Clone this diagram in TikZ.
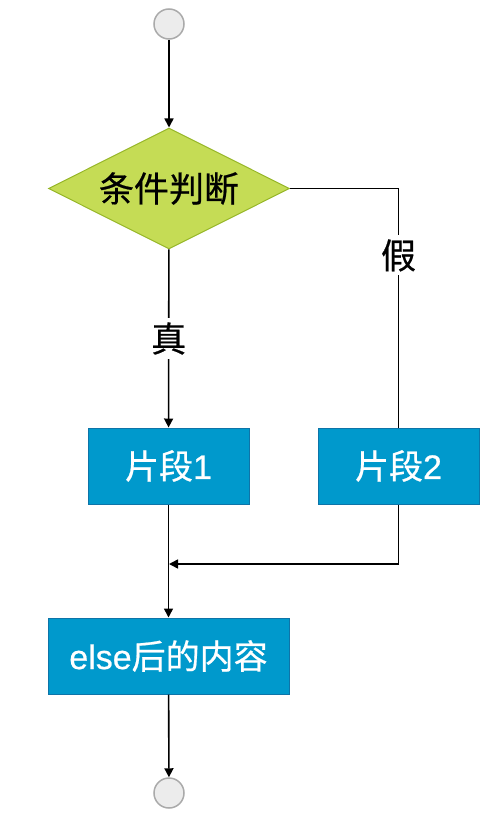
\documentclass[tikz,border=0pt]{standalone}
\usepackage{fontspec}
\setmainfont{Liberation Sans}[FakeBold=0.6]
\newfontfamily\cjk{Noto Sans CJK SC}[FakeBold=0.6]
\usetikzlibrary{shapes.geometric,arrows.meta}
\definecolor{boxblue}{RGB}{0,153,204}
\definecolor{boxedge}{RGB}{14,116,168}
\definecolor{condgreen}{RGB}{197,220,85}
\definecolor{condedge}{RGB}{150,182,40}
\definecolor{endgray}{RGB}{236,236,236}
\definecolor{endedge}{RGB}{170,170,170}
\begin{document}
\begin{tikzpicture}[x=1pt,y=-1pt,
    terminal/.style={circle,draw=endedge,fill=endgray,line width=1.5pt,minimum size=30pt,inner sep=0pt},
    cond/.style={diamond,draw=condedge,fill=condgreen,line width=1pt,minimum width=241pt,minimum height=121pt,inner sep=0pt,aspect=2,font=\cjk\fontsize{35}{35}\selectfont},
    block/.style={rectangle,draw=boxedge,fill=boxblue,line width=1pt,text=white,minimum height=76pt,inner sep=0pt,font=\fontsize{34}{34}\selectfont},
    flow/.style={line width=1.6pt,-{Triangle[length=9pt,width=9pt]}},
    wire/.style={line width=1.6pt},
    tag/.style={fill=white,inner sep=4pt,font=\cjk\fontsize{35}{35}\selectfont}]
    \useasboundingbox (0,0) rectangle (494,822);
    % Start and end
    \node[terminal] (start) at (169,24) {};
    \node[terminal] (stop) at (169,793) {};
    % Condition
    \node[cond] (test) at (169,188.5) {条件判断};
    % Branches
    \node[block,minimum width=161pt] (part1) at (168.5,466) {{\cjk 片段}1};
    \node[block,minimum width=161pt] (part2) at (398.5,466) {{\cjk 片段}2};
    \node[block,minimum width=241pt] (after) at (168.5,656) {else{\cjk 后的内容}};
    \coordinate (merge) at (169,564);
    % Connectors
    \draw[flow] (start) -- (test);
    \draw[flow] (test) -- node[tag] {真} (part1);
    \draw[wire] (test.east) -| node[tag,pos=.64] {假} (part2.north);
    \draw[flow] (part1) -- (after);
    \draw[flow] (part2.south) |- (merge);
    \draw[flow] (after) -- (stop);
\end{tikzpicture}
\end{document}
